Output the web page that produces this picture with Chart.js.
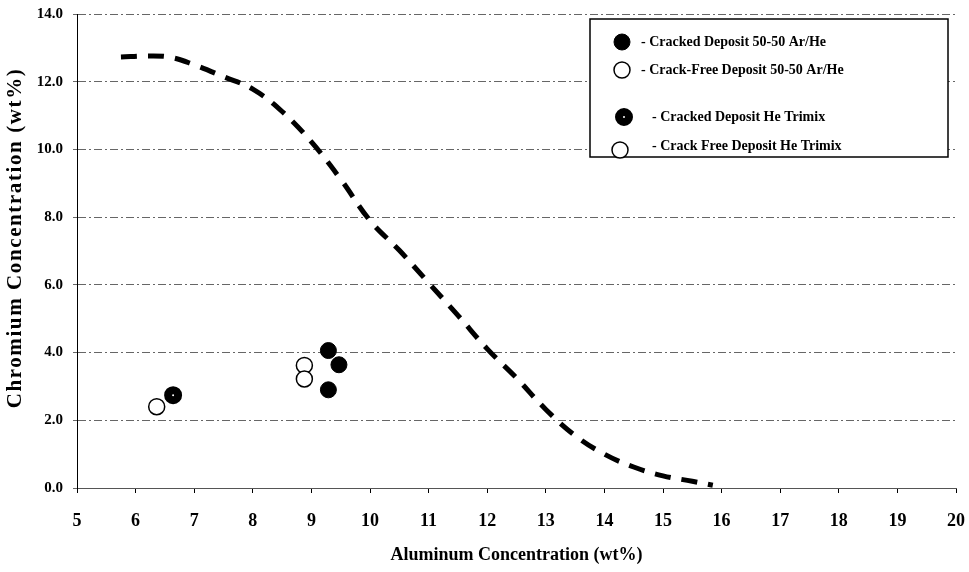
<!DOCTYPE html>
<html>
<head>
<meta charset="utf-8">
<script src="https://cdn.jsdelivr.net/npm/chart.js@4"></script>
<style>
  html, body { margin: 0; padding: 0; background: #fff; }
  #wrap { width: 969px; height: 572px; }
</style>
</head>
<body>
<div id="wrap"><canvas id="grafico"></canvas></div>
<script>
// boundary curve
const curveAl = [5.75, 6.2, 6.6, 7.0, 7.5, 8.0, 8.5, 9.0, 9.5, 10.0, 10.5, 11.0, 11.5, 12.0, 12.5, 13.0, 13.5, 14.0, 14.5, 15.0, 15.5, 15.85];
const curveCr = [12.73, 12.76, 12.72, 12.5, 12.15, 11.78, 11.12, 10.22, 9.12, 7.9, 7.02, 6.06, 5.1, 4.11, 3.25, 2.32, 1.55, 1.0, 0.62, 0.36, 0.2, 0.08];

// deposits
const crackedArHeAl = [9.29, 9.47, 9.29];
const crackedArHeCr = [4.06, 3.64, 2.9];
const freeArHeAl = [8.88, 8.88];
const freeArHeCr = [3.62, 3.22];
const crackedTrimixAl = [6.64];
const crackedTrimixCr = [2.74];
const freeTrimixAl = [6.36];
const freeTrimixCr = [2.4];

const yTicks = [0, 2, 4, 6, 8, 10, 12, 14];

const pts = (xs, ys) => xs.map((x, i) => ({ x: x, y: ys[i] }));
const serif = "'Liberation Serif', 'Times New Roman', serif";

// y title with letter spacing + legend box inside the plot
const extras = {
    id: 'extras',
    afterDraw(chart) {
        const c = chart.ctx;
        c.save();
        c.translate(16, 238);
        c.rotate(-Math.PI / 2);
        c.letterSpacing = '1.6px';
        c.font = 'bold 21px ' + serif;
        c.fillStyle = '#000';
        c.textAlign = 'center';
        c.textBaseline = 'middle';
        c.fillText('Chromium Concentration (wt%)', 0, 0);
        c.restore();

        c.save();
        c.fillStyle = '#fff';
        c.fillRect(590, 19, 358, 138);
        c.strokeStyle = '#000';
        c.lineWidth = 1.5;
        c.strokeRect(590, 19, 358, 138);
        const rows = [
            { ds: 1, mx: 622, y: 42, tx: 641 },
            { ds: 2, mx: 622, y: 70, tx: 641 },
            { ds: 3, mx: 624, y: 117, tx: 652 },
            { ds: 4, mx: 620, y: 150, tx: 652, ty: 146 }
        ];
        c.font = 'bold 14px ' + serif;
        c.textBaseline = 'middle';
        c.textAlign = 'left';
        rows.forEach(r => {
            const d = chart.data.datasets[r.ds];
            c.beginPath();
            c.arc(r.mx, r.y, d.pointRadius, 0, Math.PI * 2);
            c.fillStyle = d.pointBackgroundColor;
            c.fill();
            c.lineWidth = d.pointBorderWidth;
            c.strokeStyle = d.pointBorderColor;
            c.stroke();
            c.fillStyle = '#000';
            c.fillText('- ' + d.label, r.tx, r.ty || r.y);
        });
        c.restore();
    }
};

const ctx = document.getElementById('grafico');
new Chart(ctx, {
    type: 'scatter',
    data: {
        datasets: [
            {
                label: 'Boundary',
                data: pts(curveAl, curveCr),
                showLine: true,
                borderColor: '#000',
                borderWidth: 5,
                borderDash: [16, 11],
                tension: 0.4,
                pointRadius: 0
            },
            {
                label: 'Cracked Deposit 50-50 Ar/He',
                data: pts(crackedArHeAl, crackedArHeCr),
                pointRadius: 8,
                pointBackgroundColor: '#000',
                pointBorderColor: '#000',
                pointBorderWidth: 1
            },
            {
                label: 'Crack-Free Deposit 50-50 Ar/He',
                data: pts(freeArHeAl, freeArHeCr),
                pointRadius: 8,
                pointBackgroundColor: '#fff',
                pointBorderColor: '#000',
                pointBorderWidth: 1.5
            },
            {
                label: 'Cracked Deposit He Trimix',
                data: pts(crackedTrimixAl, crackedTrimixCr),
                pointRadius: 5,
                pointBackgroundColor: '#fff',
                pointBorderColor: '#000',
                pointBorderWidth: 8
            },
            {
                label: 'Crack Free Deposit He Trimix',
                data: pts(freeTrimixAl, freeTrimixCr),
                pointRadius: 8,
                pointBackgroundColor: '#fff',
                pointBorderColor: '#000',
                pointBorderWidth: 1.5
            }
        ]
    },
    options: {
        responsive: true,
        maintainAspectRatio: false,
        animation: false,
        layout: { padding: { left: 0, right: 11, top: 14, bottom: 0 } },
        plugins: {
            legend: { display: false },
            tooltip: { enabled: false }
        },
        scales: {
            x: {
                type: 'linear',
                min: 5,
                max: 20,
                ticks: {
                    stepSize: 1,
                    color: '#000',
                    padding: 18,
                    font: { family: serif, size: 18, weight: 'bold' }
                },
                grid: { drawOnChartArea: false, drawTicks: true, tickLength: 5, color: '#000' },
                border: { display: true, color: '#555', width: 1, dash: [8, 3, 2, 3] },
                title: {
                    display: true,
                    text: 'Aluminum Concentration (wt%)',
                    color: '#000',
                    font: { family: serif, size: 18, weight: 'bold' },
                    padding: { top: 0, bottom: 6 }
                },
                afterFit: (s) => { s.height = 84; s.paddingLeft = 0; s.paddingRight = 0; }
            },
            y: {
                min: 0,
                max: 14,
                afterBuildTicks: (s) => { s.ticks = yTicks.map(v => ({ value: v })); },
                ticks: {
                    color: '#000',
                    padding: 10,
                    font: { family: serif, size: 15, weight: 'bold' },
                    callback: (value) => value.toFixed(1)
                },
                grid: { color: '#666', lineWidth: 1, tickLength: 4 },
                border: { display: true, color: '#000', width: 1, dash: [8, 3, 2, 3] },
                afterFit: (s) => { s.width = 77; s.paddingTop = 0; s.paddingBottom = 0; }
            }
        }
    },
    plugins: [extras]
});
</script>
</body>
</html>
